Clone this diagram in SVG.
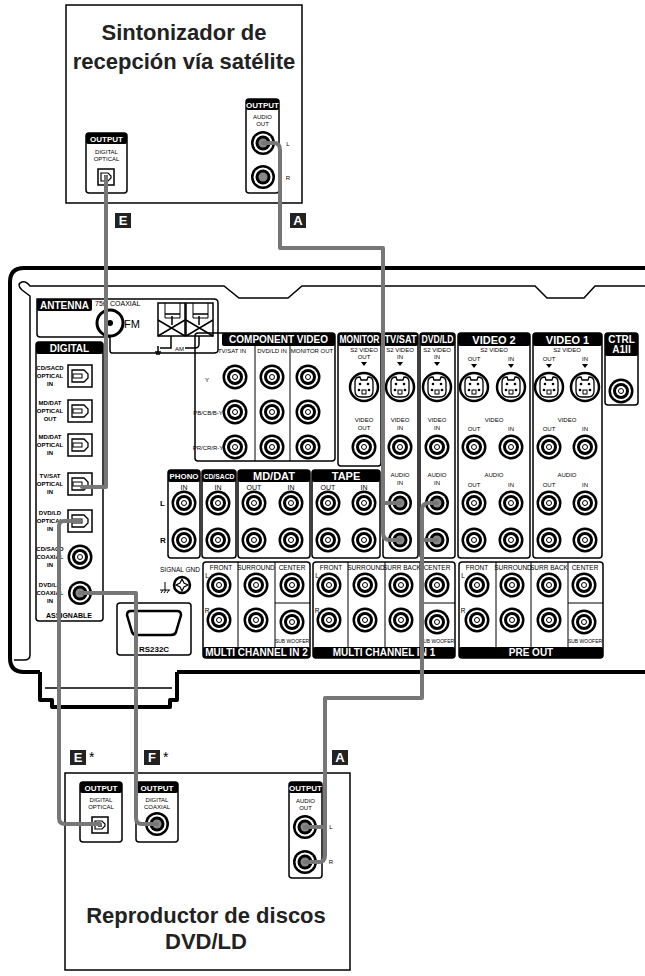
<svg xmlns="http://www.w3.org/2000/svg" xmlns:xlink="http://www.w3.org/1999/xlink" width="645" height="976" viewBox="0 0 645 976">
<style>
text{font-family:"Liberation Sans",Arial,sans-serif;fill:#000}
.t{font-size:6px;text-anchor:middle}
.tb{font-size:6px;text-anchor:middle;font-weight:bold}
.hd{font-size:10px;font-weight:bold;fill:#fff;text-anchor:middle}
.big{font-size:22px;font-weight:bold;text-anchor:middle;fill:#222}
.box{fill:none;stroke:#000;stroke-width:1.5}
.tab{fill:#000}
.thick{fill:none;stroke:#000;stroke-width:4;stroke-linejoin:round}
.thin{fill:none;stroke:#000;stroke-width:1.5}
.cable{fill:none;stroke:#777;stroke-width:4;stroke-linejoin:round;stroke-linecap:round}
.lab{font-size:13px;font-weight:bold;fill:#fff;text-anchor:middle}
</style>
<defs>
<g id="rca"><circle r="12.5" fill="#000"/><circle r="10" fill="#fff"/><circle r="8" fill="#000"/><circle r="5" fill="#fff"/><circle r="2.5" fill="none" stroke="#000" stroke-width="1"/></g>
<g id="rcap"><circle r="12" fill="#000"/><circle r="9.5" fill="#fff"/><circle r="7.5" fill="#000"/><circle r="4.5" fill="#888"/></g>
<g id="sv"><circle r="14" fill="#fff" stroke="#000" stroke-width="2.5"/><path d="M-9,-5 Q-9,-10 -4,-10 L-3,-7 H3 L4,-10 Q9,-10 9,-5 V4 Q9,10 3,10 H-3 Q-9,10 -9,4 Z" fill="none" stroke="#000" stroke-width="1.3"/><circle cx="-4" cy="-3" r="1.3"/><circle cx="4" cy="-3" r="1.3"/><circle cx="-5" cy="3" r="1.3"/><circle cx="5" cy="3" r="1.3"/><rect x="-2" y="3" width="4" height="4" fill="none" stroke="#000" stroke-width="1"/></g>
<g id="opt"><rect x="-12" y="-11" width="24" height="22" fill="#fff" stroke="#000" stroke-width="1.5"/><path d="M-8,-6 H4 L8,-2 V2 L4,6 H-8 Z" fill="none" stroke="#000" stroke-width="1.3"/><rect x="-7" y="-2" width="9" height="4" fill="none" stroke="#000" stroke-width="1"/></g>
<g id="opts"><rect x="-8" y="-8" width="16" height="16" fill="#fff" stroke="#000" stroke-width="1.5"/><path d="M-5,-4 H2 L5,-1 V1 L2,4 H-5 Z" fill="none" stroke="#000" stroke-width="1.2"/><rect x="-2" y="-2" width="4" height="4" fill="#555"/></g>
<path id="arr" d="M-3,0 H3 L0,4 Z"/>
</defs>

<!-- Satellite tuner -->
<g id="sat">
<rect x="66" y="5" width="236" height="198" fill="#fff" stroke="#000" stroke-width="1.5"/>
<text class="big" x="184" y="40">Sintonizador de</text>
<text class="big" x="184" y="69">recepción vía satélite</text>
<rect class="box" x="86" y="133" width="41" height="60" rx="3"/>
<rect class="tab" x="86" y="133" width="41" height="11" rx="2"/>
<text class="hd" style="font-size:8px" x="106.5" y="142">OUTPUT</text>
<text class="t" x="106.5" y="154">DIGITAL</text><text class="t" x="106.5" y="161">OPTICAL</text>
<use href="#opts" x="106" y="177"/>
<rect class="box" x="246" y="99" width="33" height="94" rx="3"/>
<rect class="tab" x="246" y="99" width="33" height="11" rx="2"/>
<text class="hd" style="font-size:8px" x="262.5" y="108">OUTPUT</text>
<text class="t" x="262.5" y="119">AUDIO</text><text class="t" x="262.5" y="126">OUT</text>
<use href="#rcap" x="263" y="143"/><use href="#rcap" x="263" y="177"/>
<text class="t" x="288" y="146">L</text><text class="t" x="288" y="180">R</text>
</g>

<!-- Receiver frame -->
<g id="receiver">
<path class="thick" d="M645,268 H24 Q10,268 10,282 V658 Q10,672 24,672 H40 M177,672 H645"/>
<path class="thick" d="M40,672 V700 H52 V707 H170 V700 H177 V672"/>
<path class="thin" d="M45,688 H172"/>
<path class="thin" d="M30,655 V296 L22,290 Q16,284 22,282 Q26,281 30,286 H224 L239,298 H288 L302,286 H535 L547,298 H584 L595,286 H645"/>
<path class="thin" d="M30,655 Q30,660 24,660 H14"/>

<!-- Antenna -->
<path class="box" d="M37,299 H214 Q218,299 218,303 V350 Q218,353 214,353 H112 Q110,353 110,350 V337 H40 Q37,337 37,334 Z"/>
<rect class="tab" x="37" y="299" width="55" height="12" rx="2"/>
<text class="hd" x="64.5" y="309">ANTENNA</text>
<text x="95" y="306" style="font-size:7px">75Ω COAXIAL</text>
<circle cx="110" cy="323" r="13" fill="#fff" stroke="#000" stroke-width="3"/>
<circle cx="110" cy="323" r="3" fill="#000"/>
<text x="124" y="328" style="font-size:11px">FM</text>
<g class="thin">
<rect x="158" y="303" width="27" height="33"/><rect x="186" y="303" width="27" height="33"/>
<path d="M158,320 L185,336 M158,336 L185,320 M186,320 L213,336 M186,336 L213,320 M165,314 H180 M193,314 H208 M172,325 V316 M199,325 V316"/>
<path d="M165,303 V318 H180 V303 M193,303 V318 H208 V303" style="stroke-width:1"/>
<path d="M171,336 V348 H165 M199,336 V344 Q199,348 195,348 H185 M165,348 H160 M158,346 V352 M155,352 H161 M156,354 H160"/>
</g>
<text x="175" y="351" style="font-size:6px">AM</text>

<!-- Digital -->
<rect class="box" x="36" y="342" width="67" height="279" rx="3"/>
<rect class="tab" x="36" y="342" width="67" height="12" rx="2"/>
<text class="hd" x="69.5" y="352">DIGITAL</text>
<g class="tb">
<text x="50" y="370">CD/SACD</text><text x="50" y="378">OPTICAL</text><text x="50" y="386">IN</text>
<text x="50" y="405">MD/DAT</text><text x="50" y="413">OPTICAL</text><text x="50" y="421">OUT</text>
<text x="50" y="439">MD/DAT</text><text x="50" y="447">OPTICAL</text><text x="50" y="455">IN</text>
<text x="50" y="478">TV/SAT</text><text x="50" y="486">OPTICAL</text><text x="50" y="494">IN</text>
<text x="50" y="515">DVD/LD</text><text x="50" y="523">OPTICAL</text><text x="50" y="531">IN</text>
<text x="50" y="551">CD/SACD</text><text x="50" y="559">COAXIAL</text><text x="50" y="567">IN</text>
<text x="50" y="587">DVD/LD</text><text x="50" y="595">COAXIAL</text><text x="50" y="603">IN</text>
<text x="69" y="618" style="font-size:7px">ASSIGNABLE</text>
</g>
<use href="#opt" x="80" y="376"/><use href="#opt" x="80" y="411"/><use href="#opt" x="80" y="445"/><use href="#opt" x="80" y="484"/><use href="#opt" x="80" y="521"/>
<use href="#rca" x="80" y="557"/><use href="#rcap" x="80" y="593"/>

<!-- Component video -->
<rect class="box" x="195" y="333" width="140" height="128" rx="3"/>
<rect class="tab" x="222" y="333" width="113" height="13" rx="2"/>
<text class="hd" x="278.5" y="343">COMPONENT VIDEO</text>
<path class="thin" d="M255,346 V461 M290,346 V461" style="stroke-width:1"/>
<text class="t" x="232" y="353">TV/SAT IN</text><text class="t" x="272" y="353">DVD/LD IN</text><text class="t" x="312" y="353">MONITOR OUT</text>
<text class="t" x="207" y="382">Y</text><text class="t" x="208" y="415">PB/CB/B-Y</text><text class="t" x="208" y="450">PR/CR/R-Y</text>
<use href="#rca" x="235" y="377"/><use href="#rca" x="272" y="377"/><use href="#rca" x="308" y="377"/>
<use href="#rca" x="235" y="412"/><use href="#rca" x="272" y="412"/><use href="#rca" x="308" y="412"/>
<use href="#rca" x="235" y="447"/><use href="#rca" x="272" y="447"/><use href="#rca" x="308" y="447"/>

<!-- Video sections -->
<rect class="box" x="338" y="333" width="43" height="133" rx="3"/>
<rect class="box" x="383" y="333" width="35" height="225" rx="3"/>
<rect class="box" x="420" y="333" width="35" height="225" rx="3"/>
<rect class="box" x="458" y="333" width="72" height="225" rx="3"/>
<rect class="box" x="533" y="333" width="69" height="225" rx="3"/>
<rect class="box" x="605" y="333" width="33" height="72" rx="3"/>
<rect class="tab" x="338" y="333" width="43" height="13" rx="2"/><text class="hd" x="359.5" y="343" textLength="40" lengthAdjust="spacingAndGlyphs">MONITOR</text>
<rect class="tab" x="383" y="333" width="35" height="13" rx="2"/><text class="hd" x="400.5" y="343" textLength="32" lengthAdjust="spacingAndGlyphs">TV/SAT</text>
<rect class="tab" x="420" y="333" width="35" height="13" rx="2"/><text class="hd" x="437.5" y="343" textLength="32" lengthAdjust="spacingAndGlyphs">DVD/LD</text>
<rect class="tab" x="458" y="333" width="72" height="13" rx="2"/><text class="hd" style="font-size:11px" x="494" y="344">VIDEO 2</text>
<rect class="tab" x="533" y="333" width="69" height="13" rx="2"/><text class="hd" style="font-size:11px" x="567.5" y="344">VIDEO 1</text>
<rect class="tab" x="605" y="333" width="33" height="23" rx="2"/><text class="hd" x="621.5" y="343">CTRL</text><text class="hd" x="621.5" y="353">A1II</text>
<g class="t">
<text x="364" y="352">S2 VIDEO</text><text x="364" y="359">OUT</text>
<text x="400" y="352">S2 VIDEO</text><text x="400" y="359">IN</text>
<text x="437" y="352">S2 VIDEO</text><text x="437" y="359">IN</text>
<text x="494" y="352">S2 VIDEO</text><text x="474" y="361">OUT</text><text x="511" y="361">IN</text>
<text x="567" y="352">S2 VIDEO</text><text x="549" y="361">OUT</text><text x="585" y="361">IN</text>
<text x="364" y="422">VIDEO</text><text x="364" y="430">OUT</text>
<text x="400" y="422">VIDEO</text><text x="400" y="430">IN</text>
<text x="437" y="422">VIDEO</text><text x="437" y="430">IN</text>
<text x="494" y="422">VIDEO</text><text x="474" y="431">OUT</text><text x="511" y="431">IN</text>
<text x="567" y="422">VIDEO</text><text x="549" y="431">OUT</text><text x="585" y="431">IN</text>
<text x="400" y="477">AUDIO</text><text x="400" y="485">IN</text>
<text x="437" y="477">AUDIO</text><text x="437" y="485">IN</text>
<text x="494" y="477">AUDIO</text><text x="474" y="487">OUT</text><text x="511" y="487">IN</text>
<text x="567" y="477">AUDIO</text><text x="549" y="487">OUT</text><text x="585" y="487">IN</text>
</g>
<use href="#arr" x="364" y="362"/><use href="#arr" x="400" y="362"/><use href="#arr" x="437" y="362"/><use href="#arr" x="474" y="364"/><use href="#arr" x="511" y="364"/><use href="#arr" x="549" y="364"/><use href="#arr" x="585" y="364"/>
<use href="#sv" x="364" y="387"/><use href="#sv" x="400" y="387"/><use href="#sv" x="437" y="387"/><use href="#sv" x="474" y="387"/><use href="#sv" x="511" y="387"/><use href="#sv" x="549" y="387"/><use href="#sv" x="585" y="387"/>
<use href="#rca" x="621" y="391"/>
<use href="#rca" x="364" y="447"/><use href="#rca" x="400" y="447"/><use href="#rca" x="437" y="447"/><use href="#rca" x="474" y="447"/><use href="#rca" x="511" y="447"/><use href="#rca" x="549" y="447"/><use href="#rca" x="585" y="447"/>

<!-- Audio sections -->
<rect class="box" x="168" y="470" width="32" height="88" rx="3"/>
<rect class="box" x="202" y="470" width="34" height="88" rx="3"/>
<rect class="box" x="238" y="470" width="72" height="88" rx="3"/>
<rect class="box" x="312" y="470" width="68" height="88" rx="3"/>
<rect class="tab" x="168" y="470" width="32" height="12" rx="2"/><text class="hd" style="font-size:8px" x="184" y="479" textLength="29" lengthAdjust="spacingAndGlyphs">PHONO</text>
<rect class="tab" x="202" y="470" width="34" height="12" rx="2"/><text class="hd" style="font-size:8px" x="219" y="479" textLength="31" lengthAdjust="spacingAndGlyphs">CD/SACD</text>
<rect class="tab" x="238" y="470" width="72" height="12" rx="2"/><text class="hd" style="font-size:11px" x="274" y="480">MD/DAT</text>
<rect class="tab" x="312" y="470" width="68" height="12" rx="2"/><text class="hd" style="font-size:11px" x="346" y="480">TAPE</text>
<g class="t" style="font-size:7px"><text x="184" y="490">IN</text><text x="218" y="490">IN</text><text x="254" y="490">OUT</text><text x="291" y="490">IN</text><text x="328" y="490">OUT</text><text x="364" y="490">IN</text></g>
<text x="160" y="506" style="font-size:8px;font-weight:bold">L</text><text x="160" y="543" style="font-size:8px;font-weight:bold">R</text>
<g>
<use href="#rca" x="184" y="503"/><use href="#rca" x="218" y="503"/><use href="#rca" x="254" y="503"/><use href="#rca" x="291" y="503"/><use href="#rca" x="328" y="503"/><use href="#rca" x="364" y="503"/><use href="#rcap" x="400" y="503"/><use href="#rcap" x="437" y="503"/><use href="#rca" x="474" y="503"/><use href="#rca" x="511" y="503"/><use href="#rca" x="549" y="503"/><use href="#rca" x="585" y="503"/>
<use href="#rca" x="184" y="540"/><use href="#rca" x="218" y="540"/><use href="#rca" x="254" y="540"/><use href="#rca" x="291" y="540"/><use href="#rca" x="328" y="540"/><use href="#rca" x="364" y="540"/><use href="#rcap" x="400" y="540"/><use href="#rcap" x="437" y="540"/><use href="#rca" x="474" y="540"/><use href="#rca" x="511" y="540"/><use href="#rca" x="549" y="540"/><use href="#rca" x="585" y="540"/>
</g>

<!-- Signal GND & RS232C -->
<text x="160" y="572" style="font-size:6.5px">SIGNAL GND</text>
<path class="thin" d="M165,582 V590 M160,590 H170 M161,593 L163,590 M164,593 L166,590 M167,593 L169,590" style="stroke-width:1"/>
<circle cx="182" cy="585" r="8" fill="#fff" stroke="#000" stroke-width="2.5"/>
<path d="M182,579 L184,583 L188,585 L184,587 L182,591 L180,587 L176,585 L180,583 Z" fill="#fff" stroke="#000" stroke-width="1.2"/>
<rect class="box" x="117" y="603" width="74" height="52" rx="3"/>
<path d="M127,615 Q127,611 131,611 H177 Q181,611 181,615 L176,632 Q175,635 171,635 H137 Q133,635 132,632 Z" fill="none" stroke="#000" stroke-width="2.5"/>
<text x="154" y="652" style="font-size:8px;font-weight:bold;text-anchor:middle">RS232C</text>

<!-- Multi channel -->
<rect class="box" x="203" y="562" width="107" height="96" rx="3"/>
<rect class="box" x="313" y="562" width="142" height="96" rx="3"/>
<rect class="box" x="459" y="562" width="144" height="96" rx="3"/>
<rect class="tab" x="203" y="647" width="107" height="11" rx="2"/><text class="hd" x="256.5" y="656">MULTI CHANNEL IN 2</text>
<rect class="tab" x="313" y="647" width="142" height="11" rx="2"/><text class="hd" x="384" y="656">MULTI CHANNEL IN 1</text>
<rect class="tab" x="459" y="647" width="144" height="11" rx="2"/><text class="hd" x="531" y="656">PRE OUT</text>
<path class="thin" style="stroke-width:1" d="M238,562 V647 M275,562 V647 M275,603 H310 M348,562 V647 M385,562 V647 M420,562 V647 M420,603 H455 M496,562 V647 M531,562 V647 M568,562 V647 M568,603 H603"/>
<g class="t" style="font-size:6.5px">
<text x="221" y="570">FRONT</text><text x="256" y="570">SURROUND</text><text x="292" y="570">CENTER</text>
<text x="331" y="570">FRONT</text><text x="366" y="570">SURROUND</text><text x="402" y="570">SURR BACK</text><text x="437" y="570">CENTER</text>
<text x="477" y="570">FRONT</text><text x="513" y="570">SURROUND</text><text x="549" y="570">SURR BACK</text><text x="585" y="570">CENTER</text>
<text x="292" y="643" style="font-size:5px">SUB WOOFER</text><text x="437" y="643" style="font-size:5px">SUB WOOFER</text><text x="585" y="643" style="font-size:5px">SUB WOOFER</text>
<text x="207" y="578">L</text><text x="207" y="613">R</text><text x="317" y="578">L</text><text x="317" y="613">R</text><text x="463" y="578">L</text><text x="463" y="613">R</text>
</g>
<use href="#rca" x="219" y="585"/><use href="#rca" x="256" y="585"/><use href="#rca" x="292" y="585"/>
<use href="#rca" x="219" y="620"/><use href="#rca" x="256" y="620"/><use href="#rca" x="292" y="622"/>
<use href="#rca" x="329" y="585"/><use href="#rca" x="365" y="585"/><use href="#rca" x="401" y="585"/><use href="#rca" x="437" y="585"/>
<use href="#rca" x="329" y="620"/><use href="#rca" x="365" y="620"/><use href="#rca" x="401" y="620"/><use href="#rca" x="437" y="622"/>
<use href="#rca" x="477" y="585"/><use href="#rca" x="512" y="585"/><use href="#rca" x="549" y="585"/><use href="#rca" x="584" y="585"/>
<use href="#rca" x="477" y="620"/><use href="#rca" x="512" y="620"/><use href="#rca" x="549" y="620"/><use href="#rca" x="584" y="622"/>
</g>

<!-- DVD/LD player -->
<g id="dvd">
<rect x="65" y="773" width="285" height="197" fill="#fff" stroke="#000" stroke-width="1.5"/>
<text class="big" x="206" y="923">Reproductor de discos</text>
<text class="big" x="206" y="949">DVD/LD</text>
<rect class="box" x="80" y="782" width="42" height="60" rx="3"/>
<rect class="tab" x="80" y="782" width="42" height="11" rx="2"/>
<text class="hd" style="font-size:8px" x="101" y="791">OUTPUT</text>
<text class="t" x="101" y="802">DIGITAL</text><text class="t" x="101" y="809">OPTICAL</text>
<use href="#opts" x="100" y="825"/>
<rect class="box" x="136" y="782" width="42" height="60" rx="3"/>
<rect class="tab" x="136" y="782" width="42" height="11" rx="2"/>
<text class="hd" style="font-size:8px" x="157" y="791">OUTPUT</text>
<text class="t" x="157" y="802">DIGITAL</text><text class="t" x="157" y="809">COAXIAL</text>
<use href="#rcap" x="157" y="824"/>
<rect class="box" x="289" y="782" width="33" height="96" rx="3"/>
<rect class="tab" x="289" y="782" width="33" height="11" rx="2"/>
<text class="hd" style="font-size:8px" x="305.5" y="791">OUTPUT</text>
<text class="t" x="305.5" y="803">AUDIO</text><text class="t" x="305.5" y="810">OUT</text>
<use href="#rcap" x="305" y="827"/><use href="#rcap" x="305" y="862"/>
<text class="t" x="331" y="829">L</text><text class="t" x="331" y="864">R</text>
</g>

<!-- Connectors -->
<g id="connectors">
<path class="cable" d="M106,177 V487 H82"/>
<path class="cable" d="M263,143 H274 Q280,143 280,150 V248 H383 V533 Q383,540 390,540 H400 M383,503 H400"/>
<path class="cable" d="M80,521 H64 Q59,521 59,526 V818 Q59,824 65,824 H100"/>
<path class="cable" d="M80,593 H136 V818 Q136,824 142,824 H157"/>
<path class="cable" d="M305,862 H319 Q325,862 325,855 V698 H422 V510 Q422,503 429,503 H437 M422,540 H437"/>
<path class="cable" d="M305,827 H325"/>
</g>

<!-- Labels -->
<g id="labels">
<rect x="115" y="213" width="16" height="15" fill="#222"/><text class="lab" x="123" y="225">E</text>
<rect x="290" y="213" width="16" height="15" fill="#222"/><text class="lab" x="298" y="225">A</text>
<rect x="70" y="750" width="16" height="15" fill="#222"/><text class="lab" x="78" y="762">E</text>
<text x="89" y="762" style="font-size:14px">*</text>
<rect x="144" y="750" width="16" height="15" fill="#222"/><text class="lab" x="152" y="762">F</text>
<text x="163" y="762" style="font-size:14px">*</text>
<rect x="332" y="750" width="16" height="15" fill="#222"/><text class="lab" x="340" y="762">A</text>
</g>
</svg>
